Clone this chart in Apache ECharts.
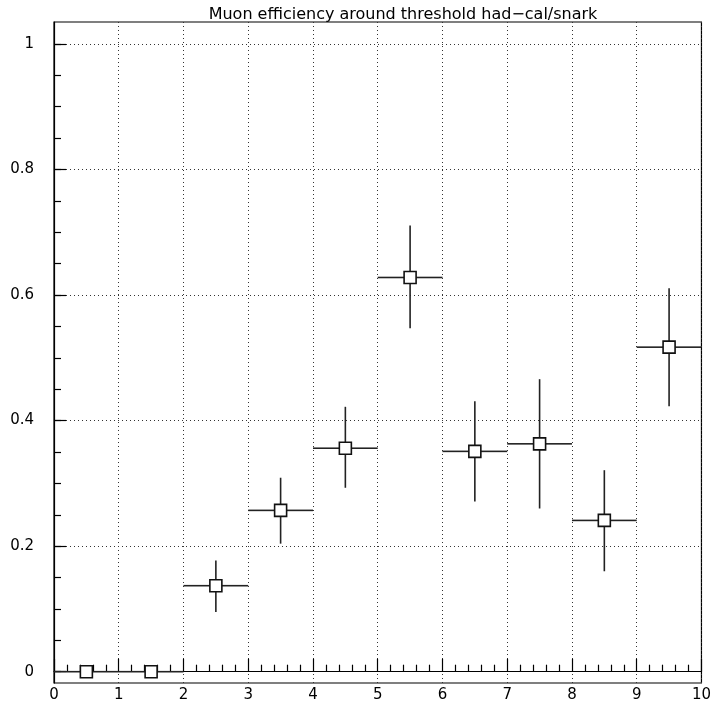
<!DOCTYPE html>
<html>
<head>
<meta charset="utf-8">
<script src="https://cdn.jsdelivr.net/npm/echarts@6/dist/echarts.min.js"></script>
<style>
  html, body { margin: 0; padding: 0; background: #fff; }
  #chart { width: 714px; height: 707px; }
</style>
</head>
<body>
<div id="chart"></div>
<script>
// bin centres, efficiency and asymmetric errors
const binCenters = [0.5, 1.5, 2.5, 3.5, 4.5, 5.5, 6.5, 7.5, 8.5, 9.5]
const efficiency = [0, 0, 0.137, 0.257, 0.356, 0.628, 0.351, 0.363, 0.241, 0.517]
const errUp = [0, 0, 0.040, 0.052, 0.066, 0.083, 0.080, 0.103, 0.080, 0.094]
const errDown = [0, 0, 0.042, 0.053, 0.063, 0.081, 0.080, 0.103, 0.081, 0.094]
const halfWidth = 0.5

const yMajor = [0, 0.2, 0.4, 0.6, 0.8, 1]
const yMinor = []
for (let i = 0; i <= 20; i++) yMinor.push(+(i * 0.05).toFixed(2))

const yMin = -0.018
const yMax = 1.035

const points = binCenters.map((x, i) => [x, efficiency[i], efficiency[i] - errDown[i], efficiency[i] + errUp[i]])

const chart = echarts.init(document.getElementById('chart'))

const font = 'DejaVu Sans, Liberation Sans, sans-serif'

const option = {
  animation: false,
  title: {
    text: 'Muon efficiency around threshold had\u2212cal/snark',
    left: 398,
    textAlign: 'center',
    top: 2,
    textStyle: { fontFamily: font, fontSize: 16, fontWeight: 'normal', color: '#000' }
  },
  grid: {
    left: 54, right: 7, top: 22, bottom: 24,
    show: true, borderColor: '#000', borderWidth: 1.2, backgroundColor: 'transparent'
  },
  xAxis: {
    type: 'value', min: 0, max: 10, interval: 1,
    axisLine: { show: true, lineStyle: { color: '#000', width: 1.2 } },
    axisTick: { show: true, inside: true, length: 13, lineStyle: { color: '#000', width: 1.2 } },
    minorTick: { show: true, splitNumber: 5, length: 7, lineStyle: { color: '#000', width: 1.2 } },
    axisLabel: { fontFamily: font, fontSize: 15, color: '#000', margin: 5 },
    splitLine: { show: true, lineStyle: { color: '#333', type: [1, 3], width: 1 } }
  },
  yAxis: [
    {
      type: 'value', min: yMin, max: yMax,
      axisLine: { show: true, lineStyle: { color: '#000', width: 1.2 } },
      axisTick: { show: true, inside: true, length: 12, customValues: yMajor, lineStyle: { color: '#000', width: 1.2 } },
      axisLabel: { fontFamily: font, fontSize: 15, color: '#000', margin: 20, customValues: yMajor },
      splitLine: { show: true, lineStyle: { color: '#333', type: [1, 3], width: 1 } }
    },
    {
      type: 'value', min: yMin, max: yMax, position: 'left',
      axisLine: { show: false },
      axisTick: { show: true, inside: true, length: 7, customValues: yMinor, lineStyle: { color: '#000', width: 1.2 } },
      axisLabel: { show: false },
      splitLine: { show: false }
    }
  ],
  series: [
    {
      type: 'custom',
      data: points,
      clip: false,
      renderItem: function (params, api) {
        const x = api.value(0)
        const y = api.value(1)
        const c = api.coord([x, y])
        const left = api.coord([x - halfWidth, y])
        const right = api.coord([x + halfWidth, y])
        const lo = api.coord([x, api.value(2)])
        const hi = api.coord([x, api.value(3)])
        const s = 6
        const st = { stroke: '#222', lineWidth: 1.6 }
        return {
          type: 'group',
          children: [
            { type: 'line', shape: { x1: left[0], y1: c[1], x2: c[0] - s, y2: c[1] }, style: st },
            { type: 'line', shape: { x1: c[0] + s, y1: c[1], x2: right[0], y2: c[1] }, style: st },
            { type: 'line', shape: { x1: c[0], y1: hi[1], x2: c[0], y2: c[1] - s }, style: st },
            { type: 'line', shape: { x1: c[0], y1: c[1] + s, x2: c[0], y2: lo[1] }, style: st },
            { type: 'rect', shape: { x: c[0] - s, y: c[1] - s, width: 2 * s, height: 2 * s },
              style: { fill: '#fff', stroke: '#111', lineWidth: 1.6 } }
          ]
        }
      }
    }
  ]
}

chart.setOption(option)
</script>
</body>
</html>
